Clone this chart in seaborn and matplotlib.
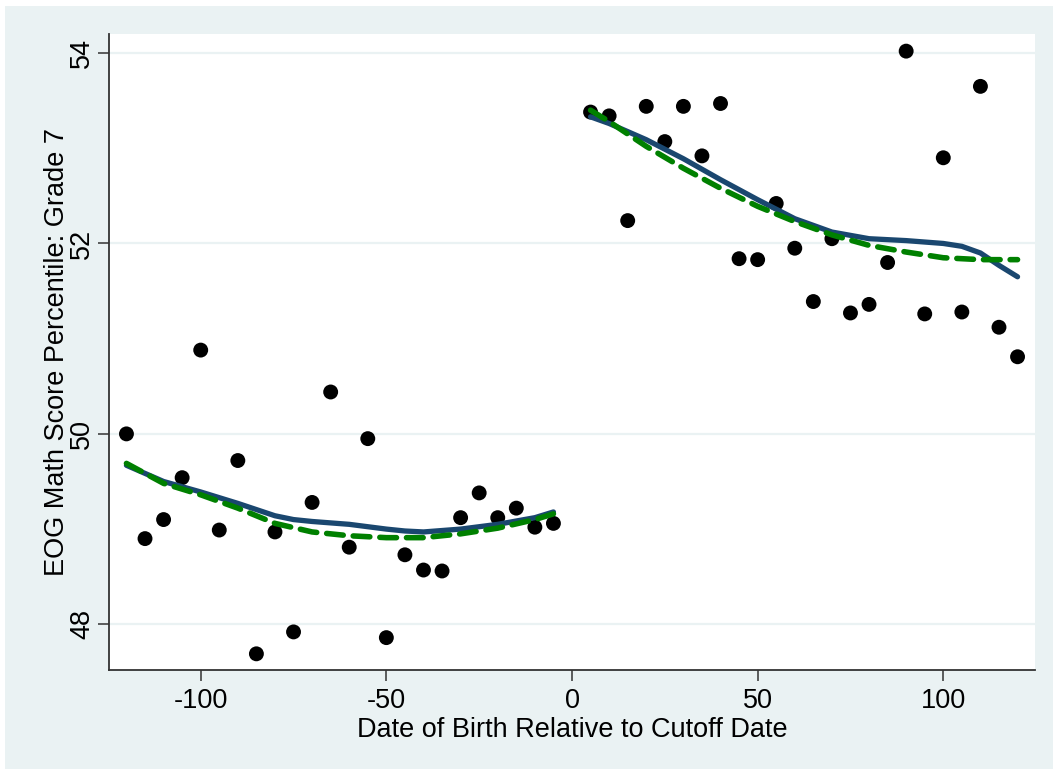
import matplotlib
matplotlib.use("Agg")
import matplotlib.pyplot as plt
import matplotlib.patches as mpatches
import numpy as np
import pandas as pd
import seaborn as sns

# ---- data ----
x_left = [-120, -115, -110, -105, -100, -95, -90, -85, -80, -75, -70, -65,
          -60, -55, -50, -45, -40, -35, -30, -25, -20, -15, -10, -5]
y_left = [50.00, 48.90, 49.10, 49.54, 50.88, 48.99, 49.72, 47.69, 48.97, 47.92, 49.28, 50.44,
          48.81, 49.95, 47.86, 48.73, 48.57, 48.56, 49.12, 49.38, 49.12, 49.22, 49.02, 49.06]
x_right = [5, 10, 15, 20, 25, 30, 35, 40, 45, 50, 55, 60,
           65, 70, 75, 80, 85, 90, 95, 100, 105, 110, 115, 120]
y_right = [53.38, 53.34, 52.24, 53.44, 53.07, 53.44, 52.92, 53.47, 51.84, 51.83, 52.42, 51.95,
           51.39, 52.05, 51.27, 51.36, 51.80, 54.02, 51.26, 52.90, 51.28, 53.65, 51.12, 50.81]

# local (solid blue) fit
lx_left = [-120, -110, -100, -90, -80, -75, -70, -60, -50, -45, -40, -30, -20, -10, -5]
ly_left = [49.67, 49.50, 49.39, 49.27, 49.14, 49.10, 49.08, 49.05, 49.00, 48.98, 48.97, 49.00, 49.05, 49.12, 49.18]
lx_right = [5, 10, 20, 30, 40, 50, 60, 70, 80, 90, 100, 105, 110, 115, 120]
ly_right = [53.33, 53.26, 53.09, 52.89, 52.67, 52.46, 52.26, 52.12, 52.05, 52.03, 52.00, 51.97, 51.90, 51.77, 51.65]

# polynomial (dashed green) fit
px_left = [-120, -110, -100, -90, -80, -70, -60, -50, -40, -30, -20, -10, -5]
py_left = [49.69, 49.48, 49.36, 49.22, 49.06, 48.97, 48.93, 48.91, 48.91, 48.95, 49.01, 49.10, 49.16]
px_right = [5, 10, 20, 30, 40, 50, 60, 70, 80, 90, 100, 110, 120]
py_right = [53.40, 53.28, 53.02, 52.79, 52.58, 52.39, 52.23, 52.09, 51.98, 51.91, 51.85, 51.83, 51.83]

y_ticks = [48, 50, 52, 54]
x_ticks = [-100, -50, 0, 50, 100]
x_label = "Date of Birth Relative to Cutoff Date"
y_label = "EOG Math Score Percentile: Grade 7"

# ---- tables ----
scatter_df = pd.DataFrame({"x": x_left + x_right, "y": y_left + y_right})
local_df = pd.DataFrame({"x": lx_left + lx_right, "y": ly_left + ly_right,
                         "side": ["L"] * len(lx_left) + ["R"] * len(lx_right)})
poly_df = pd.DataFrame({"x": px_left + px_right, "y": py_left + py_right,
                        "side": ["L"] * len(px_left) + ["R"] * len(px_right)})

sns.set_theme(style="white")
plt.rcParams["font.family"] = ["Liberation Sans", "DejaVu Sans"]

BG = "#EAF2F3"
fig = plt.figure(figsize=(10.53, 7.69), dpi=100, facecolor=BG)
# thin white border at top and left, as in the reference
fig.patches.append(mpatches.Rectangle((0, 0), 5 / 1053, 1, transform=fig.transFigure,
                                      facecolor="white", edgecolor="none", zorder=-10))
fig.patches.append(mpatches.Rectangle((0, 1 - 6 / 769), 1, 6 / 769, transform=fig.transFigure,
                                      facecolor="white", edgecolor="none", zorder=-10))
ax = fig.add_axes([109 / 1053, 1 - 670 / 769, (1035 - 109) / 1053, (670 - 34) / 769])
ax.set_facecolor("white")

for yt in y_ticks:
    ax.axhline(yt, color=BG, lw=1.6, zorder=0)

sns.scatterplot(data=scatter_df, x="x", y="y", ax=ax, color="black", s=115,
                edgecolor="none", zorder=3, legend=False)
for side in ["L", "R"]:
    d = local_df[local_df.side == side]
    sns.lineplot(data=d, x="x", y="y", ax=ax, color="#1a476f", linewidth=3.8, zorder=4,
                 estimator=None, sort=True, legend=False, solid_capstyle="round")
    d2 = poly_df[poly_df.side == side]
    sns.lineplot(data=d2, x="x", y="y", ax=ax, color="#008000", linewidth=4.0, zorder=5,
                 estimator=None, sort=True, legend=False, dashes=False,
                 linestyle=(0, (3.0, 1.8)), dash_capstyle="round")

ax.set_xlim(-124.7, 124.7)
ax.set_ylim(47.52, 54.2)
ax.set_xticks(x_ticks)
ax.set_yticks(y_ticks)
ax.set_xticklabels([str(t) for t in x_ticks])
ax.set_yticklabels([str(t) for t in y_ticks], rotation=90, va="center")

for s in ["top", "right"]:
    ax.spines[s].set_visible(False)
for s in ["left", "bottom"]:
    ax.spines[s].set_color("#333333")
    ax.spines[s].set_linewidth(1.3)

ax.tick_params(axis="both", which="major", direction="out", length=8, width=1.1,
               color="#333333", labelsize=19.5, labelcolor="black")
ax.tick_params(axis="x", pad=5)
ax.tick_params(axis="y", pad=2)
ax.tick_params(left=True, bottom=True)

ax.set_xlabel(x_label, fontsize=19.5, color="black", labelpad=2)
ax.set_ylabel(y_label, fontsize=19.5, color="black", labelpad=-1)

fig.savefig("out.png", dpi=100, facecolor=fig.get_facecolor())
